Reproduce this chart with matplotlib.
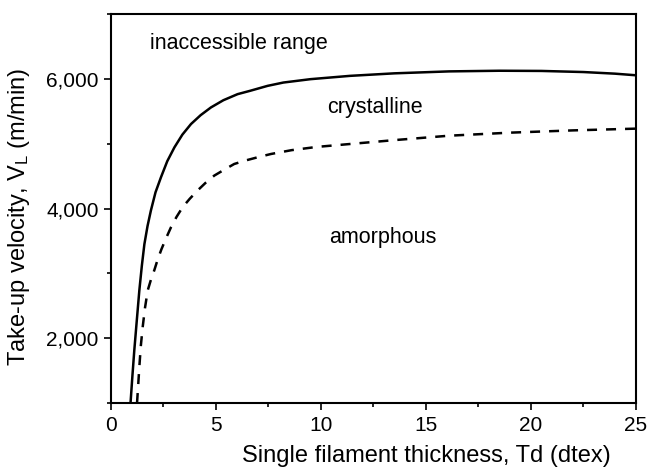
import matplotlib
matplotlib.use("Agg")
import matplotlib.pyplot as plt
from matplotlib.ticker import MultipleLocator, FuncFormatter

plt.rcParams['font.family'] = ['Liberation Sans', 'DejaVu Sans']
plt.rcParams['mathtext.default'] = 'regular'

# boundary between crystalline and inaccessible range (solid)
td_solid = [0.93, 1.02, 1.11, 1.23, 1.35, 1.47, 1.59, 1.74, 1.90, 2.12, 2.38, 2.68,
            3.02, 3.40, 3.81, 4.27, 4.76, 5.35, 6.03, 6.62, 7.46, 8.21, 9.5, 11.38,
            13.5, 16.1, 18.5, 20.5, 22.5, 24.0, 25.0]
v_solid = [1000, 1420, 1815, 2280, 2738, 3120, 3450, 3730, 3969, 4250, 4482, 4730,
           4943, 5140, 5303, 5440, 5559, 5670, 5764, 5815, 5892, 5943, 5995, 6046,
           6085, 6115, 6125, 6122, 6105, 6080, 6055]

# boundary between amorphous and crystalline (dashed)
td_dash = [1.24, 1.30, 1.35, 1.42, 1.51, 1.62, 1.75, 1.90, 2.06, 2.22, 2.40, 2.62,
           2.86, 3.12, 3.41, 3.75, 4.12, 4.50, 4.92, 5.40, 5.87, 6.40, 6.98, 7.62,
           8.6, 9.8, 11.38, 13.5, 16.1, 19.0, 22.0, 25.0]
v_dash = [1000, 1300, 1558, 1880, 2174, 2470, 2738, 2900, 3046, 3210, 3370, 3540,
          3713, 3870, 4020, 4150, 4277, 4395, 4508, 4600, 4687, 4740, 4790, 4841,
          4900, 4950, 4995, 5055, 5123, 5170, 5205, 5232]

labels = ['inaccessible range', 'crystalline', 'amorphous']

fig = plt.figure(figsize=(6.48, 4.67), dpi=100)
ax = fig.add_axes([0.1713, 0.137, 0.81, 0.833])

ax.plot(td_solid, v_solid, color='black', lw=1.8)
ax.plot(td_dash, v_dash, color='black', lw=1.8, linestyle=(0, (4, 3.6)))

ax.set_xlim(0, 25)
ax.set_ylim(1000, 7000)
ax.xaxis.set_major_locator(MultipleLocator(5))
ax.xaxis.set_minor_locator(MultipleLocator(2.5))
ax.yaxis.set_major_locator(MultipleLocator(2000))
ax.yaxis.set_minor_locator(MultipleLocator(1000))
ax.yaxis.set_major_formatter(FuncFormatter(lambda v, p: '{:,.0f}'.format(v)))

ax.tick_params(which='both', direction='out', width=1.2, labelsize=15, pad=4)
ax.tick_params(which='major', length=5)
ax.tick_params(which='minor', length=3)
for s in ax.spines.values():
    s.set_linewidth(1.5)

ax.set_xlabel('Single filament thickness, Td (dtex)', fontsize=17)
ax.set_ylabel('Take-up velocity, V$_L$ (m/min)', fontsize=17)
ax.xaxis.set_label_coords(0.6, -0.108)
ax.yaxis.set_label_coords(-0.15, 0.478)

ax.text(1.86, 6540, labels[0], fontsize=15.5, va='center')
ax.text(10.29, 5554, labels[1], fontsize=15.5, va='center')
ax.text(10.38, 3554, labels[2], fontsize=15.5, va='center')

fig.savefig('out.png', dpi=100)
